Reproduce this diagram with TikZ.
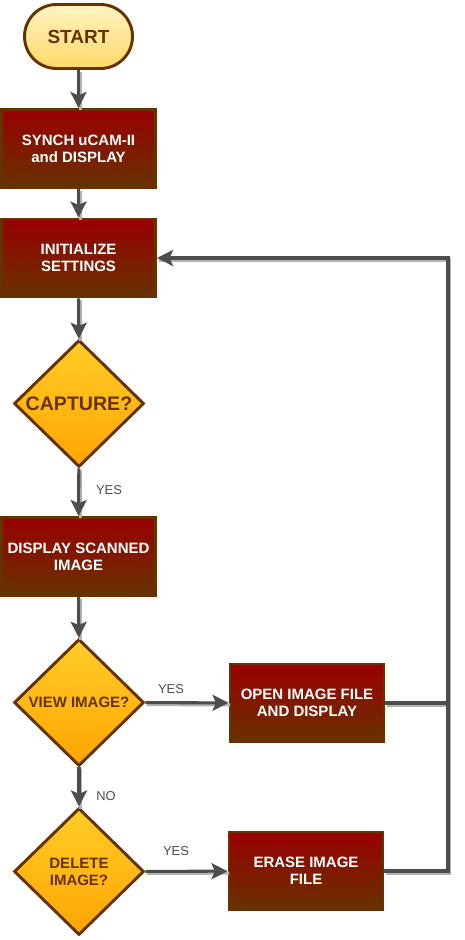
\documentclass[tikz,border=0pt]{standalone}
\usepackage{fontspec}
\setmainfont{Liberation Sans}
\usetikzlibrary{shapes.geometric, arrows.meta, positioning}
\definecolor{flRed}{HTML}{990000}
\definecolor{flBrown}{HTML}{663300}
\definecolor{flGoldTop}{HTML}{FFCD28}
\definecolor{flGoldBot}{HTML}{FFA500}
\definecolor{flCreamTop}{HTML}{FFF4C3}
\definecolor{flCreamBot}{HTML}{FFD966}
\definecolor{flLine}{HTML}{4D4D4D}
\definecolor{flShadow}{HTML}{B3B3B3}

\begin{document}
\begin{tikzpicture}[x=0.03cm, y=-0.03cm,
        term/.style={draw=flBrown, line width=2.5pt, top color=flCreamTop, bottom color=flCreamBot,
                     text=flBrown, rounded corners=0.96cm, font=\fontsize{16.2}{18}\selectfont\bfseries,
                     minimum width=3.24cm, minimum height=1.92cm, inner sep=0pt},
        proc/.style={draw=flBrown, line width=2.5pt, top color=flRed, bottom color=flBrown, text=white,
                     align=center, font=\fontsize{12.8}{14.5}\selectfont\bfseries,
                     minimum width=4.62cm, minimum height=2.34cm, inner sep=2pt},
        deci/.style={diamond, draw=flBrown, line width=2.5pt, top color=flGoldTop, bottom color=flGoldBot,
                     text=flBrown, align=center, font=\fontsize{12.8}{14.5}\selectfont\bfseries,
                     minimum width=3.9cm, minimum height=3.81cm, inner sep=0pt},
        conn/.style={draw=flLine, line width=2.6pt, -{Stealth[length=0.48cm, width=0.48cm, inset=0.1cm]},
                     preaction={draw=flShadow, line width=2.6pt, -, transform canvas={shift={(0.05cm,-0.06cm)}}}},
        plain/.style={draw=flLine, line width=2.6pt,
                     preaction={draw=flShadow, line width=2.6pt, transform canvas={shift={(0.05cm,-0.06cm)}}}},
        etiq/.style={text=flLine, font=\fontsize{11}{13}\selectfont}]
        \useasboundingbox (0,0) rectangle (464,940);
        \node[term] (start) at (78.5,36.5) {START};
        \node[proc] (synch) at (78.5,148.5) {SYNCH uCAM-II\\and DISPLAY};
        \node[proc] (init) at (78.5,258) {INITIALIZE\\SETTINGS};
        \node[deci, font=\fontsize{16.7}{18}\selectfont\bfseries] (capture) at (79,403.5) {CAPTURE?};
        \node[proc] (scan) at (78.5,556.5) {DISPLAY SCANNED\\IMAGE};
        \node[deci] (view) at (79,702.5) {VIEW IMAGE?};
        \node[proc] (open) at (307,703) {OPEN IMAGE FILE\\AND DISPLAY};
        \node[deci] (delete) at (79,871.5) {DELETE\\IMAGE?};
        \node[proc] (erase) at (306,871) {ERASE IMAGE\\FILE};
        \coordinate (loop) at (448,0);
        % labels
        \node[etiq] (yes1) at (109,490) {YES};
        \node[etiq] (yes2) at (171,689) {YES};
        \node[etiq] (no1) at (106,796) {NO};
        \node[etiq] (yes3) at (176,851) {YES};
        % main flow
        \draw[conn] (start) -- (synch);
        \draw[conn] (synch) -- (init);
        \draw[conn] (init) -- (capture);
        \draw[conn] (capture) -- (scan);
        \draw[conn] (scan) -- (view);
        \draw[conn] (view) -- (open);
        \draw[conn] (view) -- (delete);
        \draw[conn] (delete) -- (erase);
        % back to settings
        \draw[plain] (open.east) -- (open.east -| loop);
        \draw[conn] (erase.east) -| (loop |- init.east) -- (init.east);
      \end{tikzpicture}
\end{document}
